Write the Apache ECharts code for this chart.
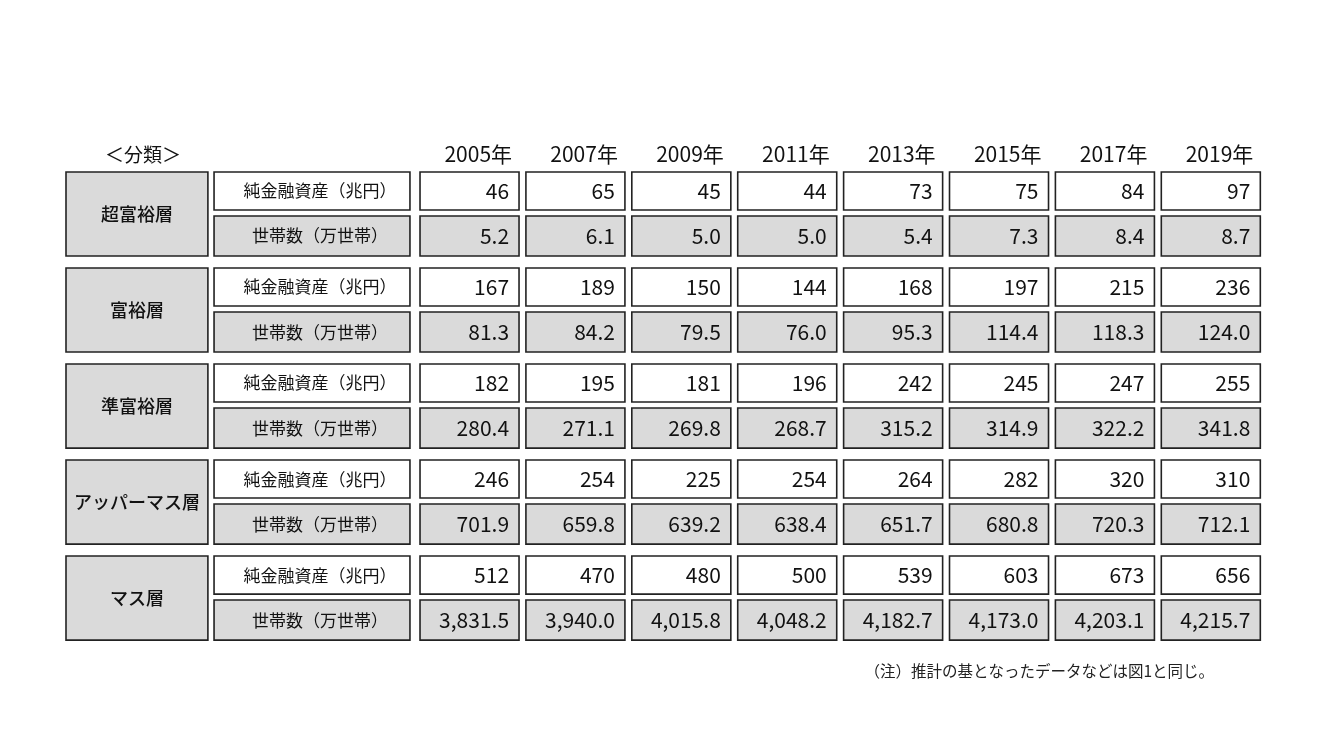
<!DOCTYPE html>
<html><head><meta charset="utf-8">
<script src="https://cdn.jsdelivr.net/npm/echarts@6/dist/echarts.min.js"></script>
<style>html,body{margin:0;background:#fff}#c{width:1334px;height:750px}</style>
</head><body><div id="c"></div>
<script>
const years = ['2005年','2007年','2009年','2011年','2013年','2015年','2017年','2019年'];
const classes = ['超富裕層','富裕層','準富裕層','アッパーマス層','マス層'];
const rowLabels = ['純金融資産（兆円）','世帯数（万世帯）'];
const assets = [
  ['46','65','45','44','73','75','84','97'],
  ['167','189','150','144','168','197','215','236'],
  ['182','195','181','196','242','245','247','255'],
  ['246','254','225','254','264','282','320','310'],
  ['512','470','480','500','539','603','673','656']
];
const households = [
  ['5.2','6.1','5.0','5.0','5.4','7.3','8.4','8.7'],
  ['81.3','84.2','79.5','76.0','95.3','114.4','118.3','124.0'],
  ['280.4','271.1','269.8','268.7','315.2','314.9','322.2','341.8'],
  ['701.9','659.8','639.2','638.4','651.7','680.8','720.3','712.1'],
  ['3,831.5','3,940.0','4,015.8','4,048.2','4,182.7','4,173.0','4,203.1','4,215.7']
];
const headerTitle = '＜分類＞';
const note = '（注）推計の基となったデータなどは図1と同じ。';

const GRAY = '#dadada';
const GSTEP = 96/44;
const items = [];
items.push([0, -0.8, 1.34, 0.8, headerTitle, 3]);
years.forEach((y,k)=>items.push([3.343+k, -0.8, 0.935, 0.8, y, 4]));
classes.forEach((c,g)=>{
  const t = g*GSTEP;
  items.push([0, t, 1.34, 1.91, c, 0]);
  rowLabels.forEach((l,r)=>{
    const yy = t + r, h = r===0?0.864:0.91;
    items.push([1.398, yy, 1.85, h, l, r===0?1:11]);
    const vals = r===0?assets[g]:households[g];
    vals.forEach((v,k)=>items.push([3.343+k, yy, 0.935, h, v, r===0?2:12]));
  });
});

const chart = echarts.init(document.getElementById('c'));
chart.setOption({
  animation:false,
  grid:{left:66,right:74,top:172,bottom:108},
  xAxis:{type:'value',min:0,max:11.275,show:false},
  yAxis:{type:'value',min:0,max:10.68,inverse:true,show:false},
  graphic:[{type:'text',right:120,top:663,style:{text:note,font:'15.5px "Noto Sans CJK JP"',fill:'#222'}}],
  series:[{
    type:'custom',clip:false,data:items,
    renderItem:(params,api)=>{
      const d = items[params.dataIndex];
      const p0 = api.coord([d[0],d[1]]), p1 = api.coord([d[0]+d[2],d[1]+d[3]]);
      const x=p0[0], y=p0[1], w=p1[0]-p0[0], h=p1[1]-p0[1];
      const kind = d[5];
      const children = [];
      if(kind!==3 && kind!==4){
        const fill = (kind===0||kind>=10)?GRAY:'#fff';
        children.push({type:'rect',shape:{x,y,width:w,height:h},style:{fill,stroke:'#222',lineWidth:1.6}});
      }
      let tx, align, font;
      if(kind===3){tx=x+w/2+6;align='center';font='19px "Noto Sans CJK JP"';}
      else if(kind===4){tx=x+w-7;align='right';font='21px "Noto Sans CJK JP"';}
      else if(kind===0){tx=x+w/2;align='center';font='500 18px "Noto Sans CJK JP"';}
      else if(kind===1||kind===11){tx=x+w/2+8;align='center';font='17px "Noto Sans CJK JP"';}
      else {tx=x+w-10;align='right';font='21px "Noto Sans CJK JP"';}
      children.push({type:'text',style:{x:tx,y:y+h/2,text:d[4],align,verticalAlign:'middle',font,fill:'#111'}});
      return {type:'group',children};
    }
  }]
});
</script></body></html>
